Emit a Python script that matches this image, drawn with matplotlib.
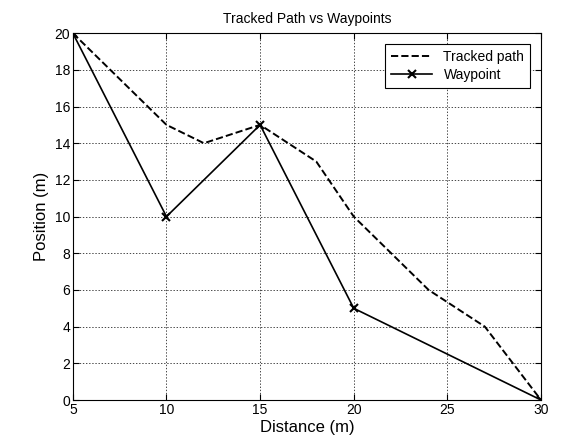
import matplotlib
matplotlib.use("Agg")
import matplotlib.pyplot as plt

plt.rcParams["font.family"] = ["Liberation Sans", "DejaVu Sans"]

# tracked path
track_x = [5, 10, 12, 15, 18, 20, 24, 27, 30]
track_y = [20, 15, 14, 15, 13, 10, 6, 4, 0]

# waypoints
way_x = [5, 10, 15, 20, 30]
way_y = [20, 10, 15, 5, 0]

x_ticks = [5, 10, 15, 20, 25, 30]
y_ticks = list(range(0, 21, 2))

fig = plt.figure(figsize=(5.78, 4.42), dpi=100)
ax = fig.add_axes([0.126, 0.095, 0.81, 0.83])

ax.plot(track_x, track_y, "k--", lw=1.4, label="Tracked path")
ax.plot(way_x, way_y, "k-", lw=1.2, marker="x", markersize=6,
        markeredgewidth=1.5, label="Waypoint")

ax.set_xlim(5, 30)
ax.set_ylim(0, 20)
ax.set_xticks(x_ticks)
ax.set_yticks(y_ticks)
ax.tick_params(direction="in", top=True, right=True, labelsize=10,
               length=4, pad=2)
ax.grid(True, color="black", linestyle=(0, (2, 2.5)), linewidth=0.5)

ax.set_xlabel("Distance (m)", fontsize=12, labelpad=2)
ax.set_ylabel("Position (m)", fontsize=12, labelpad=4)
ax.set_title("Tracked Path vs Waypoints", fontsize=10, pad=7)

leg = ax.legend(loc="upper right", fancybox=False, framealpha=1,
                edgecolor="black", fontsize=10, handlelength=3,
                borderaxespad=0.8, labelspacing=0.3)
leg.get_frame().set_linewidth(0.8)

fig.savefig("out.png", dpi=100)
